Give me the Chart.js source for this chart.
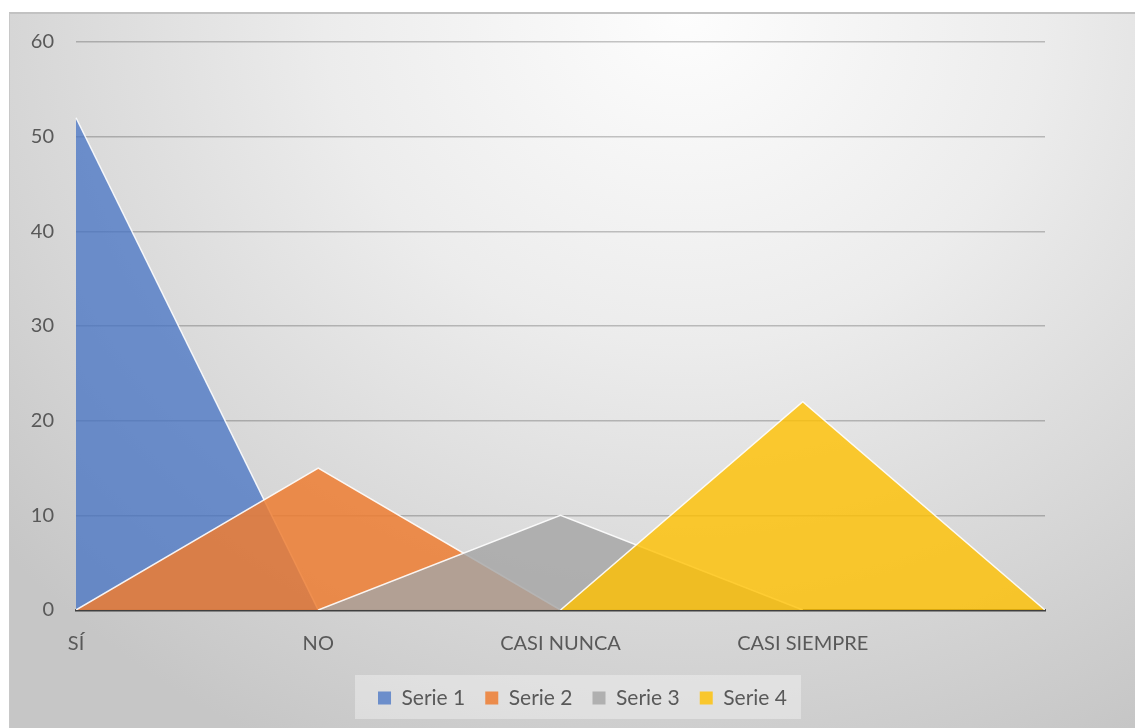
<!DOCTYPE html>
<html>
<head>
<meta charset="utf-8">
<script src="https://cdn.jsdelivr.net/npm/chart.js@4.4.1/dist/chart.umd.min.js"></script>
<style>
    html, body {
        margin: 0;
        padding: 0;
        background: #ffffff;
    }
    #frame {
        position: absolute;
        left: 9px;
        top: 12px;
        width: 1126px;
        height: 716px;
        box-sizing: border-box;
        border-top: 2px solid #c2c2c2;
        border-left: 1px solid #c8c8c8;
        background: radial-gradient(ellipse 80% 115% at 60% 0%, #fdfdfd 0%, #ececec 40%, #d6d6d6 75%, #c6c6c6 100%);
    }
    #myChart {
        position: absolute;
        left: 0;
        top: 0;
    }
</style>
</head>
<body>
<div id="frame">
    <canvas id="myChart" width="1125" height="714"></canvas>
</div>
<script>
const categories = ["SÍ", "NO", "CASI NUNCA", "CASI SIEMPRE", ""]

const serie1 = [52, 0, null, null, null]
const serie2 = [0, 15, 0, null, null]
const serie3 = [null, 0, 10, 0, null]
const serie4 = [null, null, 0, 22, 0]

const yMin = 0
const yMax = 60
const yStep = 10

const labelColor = "#595959"
const fontFamily = "Lato, 'Open Sans', sans-serif"

// move the legend a bit right and up (Excel puts it there)
const legendShiftPlugin = {
    id: "legendShift",
    afterLayout(chart) {
        const lg = chart.legend
        if (!lg) return
        lg.left += 55
        lg.right += 55
        lg.top -= 10.5
        lg.bottom -= 10.5
    },
}

// light box drawn behind the legend items
const legendBoxPlugin = {
    id: "legendBox",
    beforeDraw(chart) {
        const boxes = chart.legend && chart.legend.legendHitBoxes
        if (!boxes || !boxes.length) return
        let left = Infinity, right = -Infinity, top = Infinity, bottom = -Infinity
        boxes.forEach((b) => {
            left = Math.min(left, b.left)
            right = Math.max(right, b.left + b.width)
            top = Math.min(top, b.top)
            bottom = Math.max(bottom, b.top + b.height)
        })
        const mid = (top + bottom) / 2
        const c = chart.ctx
        c.save()
        c.fillStyle = "rgba(255, 255, 255, 0.35)"
        c.fillRect(left - 23, mid - 23, right - left + 37, 44)
        c.restore()
    },
}

function makeSet(label, data, color, order) {
    return {
        label: label,
        data: data,
        fill: "origin",
        backgroundColor: color,
        borderColor: "rgba(255, 255, 255, 0.9)",
        borderWidth: 1.5,
        pointRadius: 0,
        tension: 0,
        spanGaps: false,
        order: order,
    }
}

const ctx = document.getElementById("myChart").getContext("2d")

const myChart = new Chart(ctx, {
    type: "line",
    data: {
        labels: categories,
        datasets: [
            makeSet("Serie 1", serie1, "rgba(68, 114, 196, 0.74)", 4),
            makeSet("Serie 2", serie2, "rgba(237, 125, 49, 0.85)", 3),
            makeSet("Serie 3", serie3, "rgba(165, 165, 165, 0.82)", 2),
            makeSet("Serie 4", serie4, "rgba(255, 192, 0, 0.8)", 1),
        ],
    },
    options: {
        responsive: false,
        animation: false,
        layout: {
            padding: { top: 28, right: 90, bottom: 0, left: 0 },
        },
        scales: {
            x: {
                offset: false,
                grid: { display: false, drawTicks: false },
                border: { display: true, color: "#404040", width: 2.5 },
                ticks: {
                    color: labelColor,
                    padding: 22,
                    maxRotation: 0,
                    autoSkip: false,
                    font: { family: fontFamily, size: 20 },
                },
            },
            y: {
                min: yMin,
                max: yMax,
                afterFit(scale) {
                    scale.width = 66
                    scale.paddingTop = 0
                    scale.paddingBottom = 0
                },
                grid: {
                    color: "rgba(0, 0, 0, 0.22)",
                    lineWidth: 1.5,
                    drawTicks: false,
                },
                border: { display: false },
                ticks: {
                    stepSize: yStep,
                    padding: 22,
                    color: labelColor,
                    font: { family: fontFamily, size: 20 },
                },
            },
        },
        plugins: {
            legend: {
                position: "bottom",
                maxHeight: 50,
                labels: {
                    boxWidth: 13,
                    boxHeight: 13,
                    padding: 20,
                    color: labelColor,
                    font: { family: fontFamily, size: 21 },
                    generateLabels(chart) {
                        return chart.data.datasets.map((ds, i) => ({
                            text: ds.label,
                            fillStyle: ds.backgroundColor,
                            strokeStyle: ds.backgroundColor,
                            lineWidth: 0,
                            hidden: false,
                            datasetIndex: i,
                            fontColor: labelColor,
                        }))
                    },
                },
            },
            tooltip: { enabled: false },
        },
    },
    plugins: [legendShiftPlugin, legendBoxPlugin],
})
</script>
</body>
</html>
